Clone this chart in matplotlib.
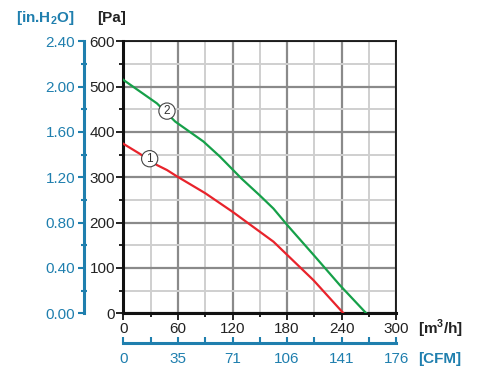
import matplotlib
matplotlib.use("Agg")
import matplotlib.pyplot as plt
import numpy as np

plt.rcParams['font.family'] = ['Liberation Sans', 'DejaVu Sans']
plt.rcParams['mathtext.fontset'] = 'custom'
plt.rcParams['mathtext.rm'] = 'Liberation Sans'
plt.rcParams['mathtext.bf'] = 'Liberation Sans:bold'

# curve 1 (red) and curve 2 (green), flow in m3/h vs pressure in Pa
flow1 = [0, 18, 37, 48, 59, 90, 120, 150, 165, 180, 209, 242]
pres1 = [374, 352, 327, 316, 302, 265, 224, 180, 158, 129, 73, 0]
flow2 = [0, 37, 57, 88, 106, 130, 150, 165, 180, 209, 238, 267]
pres2 = [515, 463, 423, 379, 346, 297, 260, 231, 195, 129, 62, 0]

x_ticks = [0, 60, 120, 180, 240, 300]
cfm_labels = ['0', '35', '71', '106', '141', '176']
y_ticks = [0, 100, 200, 300, 400, 500, 600]
inh2o_ticks = [0.0, 0.4, 0.8, 1.2, 1.6, 2.0, 2.4]

blue = '#1f7fae'
dark = '#222222'
fs = 11

fig = plt.figure(figsize=(4.83, 3.82), dpi=100)
W, H = 483, 382
x0, x1 = 123.3, 396.3
y0, y1 = 313.3, 41.3
ax = fig.add_axes([x0 / W, 1 - y0 / H, (x1 - x0) / W, (y0 - y1) / H])

ax.set_xlim(0, 300)
ax.set_ylim(0, 600)
ax.set_xticks(x_ticks)
ax.set_xticks(np.arange(30, 300, 60), minor=True)
ax.set_yticks(y_ticks)
ax.set_yticks(np.arange(50, 600, 100), minor=True)
ax.grid(which='minor', color='#cfcfcf', lw=1.4, zorder=0)
ax.grid(which='major', color='#8a8a8a', lw=1.6, zorder=0)
ax.set_axisbelow(True)
for s in ax.spines.values():
    s.set_color('#111111')
    s.set_linewidth(1.3)
ax.spines['left'].set_linewidth(2.2)
ax.spines['bottom'].set_linewidth(2.2)
ax.tick_params(which='major', length=5, width=1.3, color='#111111',
               labelsize=fs, labelcolor=dark, pad=1)
ax.tick_params(which='minor', length=3, width=1.3, color='#111111')

ax.plot(flow1, pres1, color='#e8232b', lw=1.6, zorder=3)
ax.plot(flow2, pres2, color='#16a049', lw=1.6, zorder=3)

for lab, xx, yy in [('1', 29, 341), ('2', 48, 446)]:
    ax.text(xx, yy, lab, fontsize=8.5, ha='center', va='center', color='#333333',
            zorder=4, bbox=dict(boxstyle='circle,pad=0.18', fc='white',
                                ec='#444444', lw=0.8))

# blue in.H2O axis on the left
bx = 83.5
axb = fig.add_axes([bx / W, 1 - y0 / H, 0.0001, (y0 - y1) / H])
axb.set_ylim(0, 2.4)
axb.set_yticks(inh2o_ticks)
axb.set_yticklabels(['%.2f' % v for v in inh2o_ticks])
axb.set_yticks(np.arange(0.2, 2.4, 0.4), minor=True)
axb.set_xticks([])
for k in ['top', 'right', 'bottom']:
    axb.spines[k].set_visible(False)
axb.spines['left'].set_color(blue)
axb.spines['left'].set_linewidth(2.2)
axb.patch.set_visible(False)
axb.tick_params(axis='y', which='major', direction='out', length=4, width=1.5,
                color=blue, labelcolor=blue, labelsize=fs, pad=2)
axb.tick_params(axis='y', which='minor', direction='inout', length=5, width=1.5,
                color=blue)

# blue CFM axis at the bottom
by = 342.5
axc = fig.add_axes([x0 / W, 1 - by / H, (x1 - x0) / W, 0.0001])
axc.set_xlim(0, 300)
axc.set_xticks(x_ticks)
axc.set_xticklabels(cfm_labels)
axc.set_xticks(np.arange(30, 300, 60), minor=True)
axc.set_yticks([])
for k in ['top', 'right', 'left']:
    axc.spines[k].set_visible(False)
axc.spines['bottom'].set_color(blue)
axc.spines['bottom'].set_linewidth(2.2)
axc.patch.set_visible(False)
axc.tick_params(axis='x', which='both', direction='in', length=4, width=1.5,
                color=blue, labelcolor=blue, labelsize=fs, pad=7)

# unit labels
fig.text(112 / W, 1 - 18 / H, '[Pa]', fontsize=fs, fontweight='bold',
         color=dark, ha='center', va='center')
fig.text(45 / W, 1 - 18 / H, '[in.H$_\\mathbf{2}$O]', fontsize=fs,
         fontweight='bold', color=blue, ha='center', va='center')
fig.text(440 / W, 1 - 329 / H, '[m$^\\mathbf{3}$/h]', fontsize=fs,
         fontweight='bold', color=dark, ha='center', va='center')
fig.text(440 / W, 1 - 359 / H, '[CFM]', fontsize=fs, fontweight='bold',
         color=blue, ha='center', va='center')

fig.savefig('out.png', dpi=100)
